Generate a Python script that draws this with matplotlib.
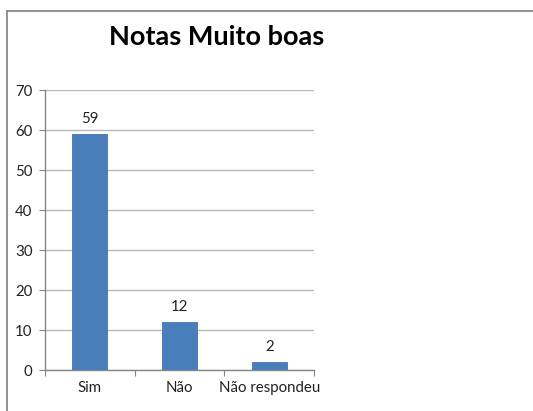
import matplotlib
matplotlib.use("Agg")
import matplotlib.pyplot as plt
from matplotlib.lines import Line2D
import numpy as np

categories = ["Sim", "Não", "Não respondeu"]
values = [59, 12, 2]
yticks = [0, 10, 20, 30, 40, 50, 60, 70]
title = "Notas Muito boas"

plt.rcParams['font.family'] = ['Lato', 'DejaVu Sans']

W, H = 533, 411
fig = plt.figure(figsize=(W/100, H/100), dpi=100)
fig.patch.set_facecolor("white")

# outer chart border (left and top visible)
fig.add_artist(Line2D([7/W, 7/W], [0, 1-11/H], transform=fig.transFigure, color="#8a8a8a", lw=1.3))
fig.add_artist(Line2D([7/W, 1], [1-11/H, 1-11/H], transform=fig.transFigure, color="#8a8a8a", lw=1.3))

ax = fig.add_axes([45/W, 1-370/H, (314-45)/W, (370-90)/H])
x = np.arange(len(categories))
bars = ax.bar(x, values, width=0.39, color="#4a7ebb", edgecolor="#4276b3", linewidth=0.6, zorder=3)
ax.set_xlim(-0.5, len(categories)-0.5)
ax.set_ylim(0, 70)
ax.set_yticks(yticks)
ax.set_yticklabels([str(t) for t in yticks], fontsize=10.8, color="#222222")
ax.yaxis.grid(True, color="#b8b8b8", linewidth=1.0, zorder=0)
ax.set_axisbelow(True)

# category ticks at boundaries
ax.set_xticks(np.arange(-0.5, len(categories)), minor=False)
ax.set_xticklabels([])
ax.set_xticks(x, minor=True)
ax.set_xticklabels(categories, minor=True, fontsize=10.8, color="#222222")
ax.tick_params(axis='x', which='major', length=4, color="#868686", direction='out')
ax.tick_params(axis='x', which='minor', length=0, pad=8)
ax.tick_params(axis='y', length=4, color="#868686", direction='out', pad=5)

for s in ["top", "right"]:
    ax.spines[s].set_visible(False)
for s in ["left", "bottom"]:
    ax.spines[s].set_color("#868686")
    ax.spines[s].set_linewidth(1.0)

for xi, v in zip(x, values):
    ax.annotate(str(v), (xi, v), xytext=(0, 6), textcoords="offset points",
                ha="center", va="bottom", fontsize=10.8, color="#222222")

fig.text(217/W, 1-37/H, title, ha="center", va="center", fontsize=19.5, fontweight="bold", color="black")

fig.savefig("out.png", dpi=100)
